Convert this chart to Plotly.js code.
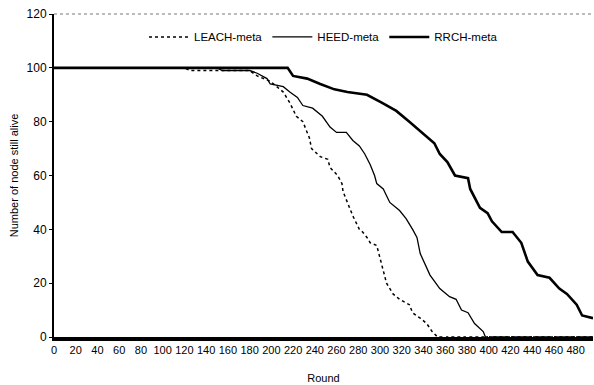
<!DOCTYPE html>
<html>
<head>
<meta charset="utf-8">
<script src="https://cdn.plot.ly/plotly-3.0.1.min.js"></script>
<style>html,body{margin:0;padding:0;background:#fff;}#chart{width:594px;height:385px;}</style>
</head>
<body>
<div id="chart"></div>
<script>
var leachRounds = [0,120,125,180,187,199,205,211,217,223,229,235,237,243,245,252,254,261,265,266,270,275,281,284,288,291,297,300,303,306,312,318,327,330,337,343,348,353,496];
var leachAlive  = [100,100,99,99,97,95,93,91,87,82,80,74,70,68,67,66,63,60,57,54,50,45,40,39,37,35,34,29,24,20,16,14,12,9,7,5,2,0,0];

var heedRounds = [0,150,155,180,187,196,199,211,217,224,229,238,247,254,260,269,275,281,286,291,295,297,303,309,318,324,330,334,337,343,346,355,364,370,375,381,387,395,397,496];
var heedAlive  = [100,100,99,99,98,96,94,93,91,89,86,85,82,78,76,76,73,71,68,64,60,57,55,50,47,44,40,37,31,26,23,18,15,14,10,9,5,2,0,0];

var rrchRounds = [0,215,220,233,245,258,270,288,302,315,327,339,350,355,362,369,381,383,392,399,403,412,422,430,436,445,456,465,472,481,486,496];
var rrchAlive  = [100,100,97,96,94,92,91,90,87,84,80,76,72,68,65,60,59,55,48,46,43,39,39,35,28,23,22,18,16,12,8,7];

var xTicks = [];
for (var t = 0; t <= 480; t += 20) xTicks.push(t);

var font = {family: 'Liberation Sans, Arial, sans-serif', size: 11, color: '#000'};
var tickFontY = {family: 'Liberation Sans, Arial, sans-serif', size: 12, color: '#000'};
var legendFont = {family: 'Liberation Sans, Arial, sans-serif', size: 11.5, color: '#000'};

var traces = [
  {x: leachRounds, y: leachAlive, name: 'LEACH-meta', mode: 'lines', line: {color: '#000', width: 1.5, dash: 'dot'}},
  {x: heedRounds, y: heedAlive, name: 'HEED-meta', mode: 'lines', line: {color: '#000', width: 1.3}},
  {x: rrchRounds, y: rrchAlive, name: 'RRCH-meta', mode: 'lines', line: {color: '#000', width: 2.6}}
];

var layout = {
  width: 594, height: 385,
  margin: {l: 54, r: 1, t: 14, b: 48},
  paper_bgcolor: '#fff', plot_bgcolor: '#fff',
  font: font,
  showlegend: true,
  legend: {orientation: 'h', x: 0.5, xanchor: 'center', y: 0.929, yanchor: 'middle',
           bgcolor: 'rgba(0,0,0,0)', font: legendFont, traceorder: 'normal', itemwidth: 40},
  xaxis: {
    range: [0, 496], tickvals: xTicks, ticktext: xTicks.map(String),
    showgrid: false, zeroline: false, showline: true, linecolor: '#000', linewidth: 4,
    ticks: 'inside', ticklen: 3, tickcolor: '#fff', tickfont: font,
    title: {text: 'Round', font: font, standoff: 20}
  },
  yaxis: {
    range: [0, 120], tickvals: [0,20,40,60,80,100,120],
    showgrid: false, zeroline: false, showline: true, linecolor: '#000', linewidth: 2,
    ticks: 'outside', ticklen: 3, tickcolor: '#000', tickfont: tickFontY,
    title: {text: 'Number of node still alive', font: font, standoff: 6}
  },
  shapes: [
    {type: 'line', xref: 'paper', yref: 'paper', x0: 0, x1: 1, y0: 1, y1: 1,
     line: {color: '#777', width: 1, dash: 'dot'}}
  ]
};

Plotly.newPlot('chart', traces, layout, {displayModeBar: false, staticPlot: true});
</script>
</body>
</html>
